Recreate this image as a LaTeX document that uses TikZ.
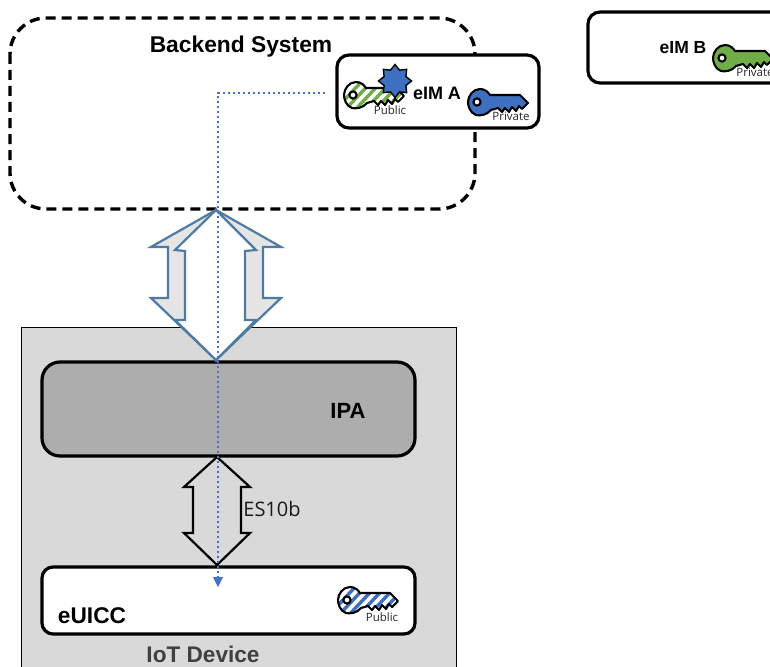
\documentclass[tikz,border=0pt]{standalone}
\usepackage{fontspec}
\setmainfont{Liberation Sans}
\newfontfamily\labelfont{Open Sans}
\usetikzlibrary{shapes.geometric}
\definecolor{keyblue}{HTML}{3F6FC0}
\definecolor{keygreen}{HTML}{70AD47}
\definecolor{dotblue}{HTML}{4472C4}
\definecolor{arrowblue}{HTML}{4F7BA3}
\newcommand{\keypath}{(8,-7) -- (38,-7) -- (46,1) -- (40,7) -- (37,4) -- (34,9) -- (30,5) -- (27,10) -- (23,6) -- (20,10) -- (16,6) -- (9,8)
  .. controls (5,13) and (-2,14) .. (-6,13) .. controls (-12,11) and (-14,4) .. (-14,0) .. controls (-14,-6) and (-9,-13) .. (-2,-13) .. controls (3,-13) and (6,-10) .. (8,-7) -- cycle}
\tikzset{
  x=1pt,y=-1pt,
  solidkey/.pic={
    \fill[fill=#1] \keypath;
    \draw[keyline] \keypath;
    \draw[keyline,fill=white] (-5,0) circle (3.6);
  },
  hatchkey/.pic={
    \fill[white] \keypath;
    \begin{scope}
      \clip \keypath;
      \foreach \s in {-24,-14,...,70}
        \draw[#1,line width=3.4pt] (\s,16) -- (\s+30,-16);
    \end{scope}
    \draw[keyline] \keypath;
    \draw[keyline,fill=white] (-5,0) circle (3.6);
  },
  keyline/.style={line width=2.1pt,line join=round,draw=black},
  panel/.style={draw=black,line width=3.2pt,rounded corners=#1},
  smalltext/.style={font=\labelfont\fontsize{11.5}{12}\selectfont,text=black!85,inner sep=0pt},
  boldtext/.style={font=\bfseries\fontsize{#1}{#1}\selectfont,inner sep=0pt},
  bigarrow/.style={draw=arrowblue,line width=2.2pt,line join=miter},
  thinarrow/.style={draw=black,line width=2.2pt,line join=miter},
  flow/.style={draw=dotblue,line width=2.4pt,dash pattern=on 2.4pt off 2.6pt},
}
\begin{document}
\begin{tikzpicture}
\useasboundingbox (0,0) rectangle (770,666);
\clip (0,0) rectangle (770,666);
% IoT device
\path[fill=black!15,draw=black,line width=0.9pt] (21,327) -- (456,327) -- (456,670) -- (21,670) -- cycle;
\node[boldtext=22.6,text=black!75] (iot) at (203,654) {IoT Device};
% backend
\draw[panel=36,dash pattern=on 10pt off 6pt,line width=3.4pt] (10,18) rectangle (475,209);
\node[boldtext=22.8] (backend) at (241,47) {Backend System};
% IPA and eUICC
\path[panel=18,fill=black!32] (42,362) rectangle (415,456);
\node[boldtext=22] (ipa) at (348,411) {IPA};
\path[panel=11,fill=white] (42,567) rectangle (415,634);
\node[boldtext=22.7] (euicc) at (92,616) {eUICC};
% large arrows
\path[bigarrow,fill=black!10] (216,210) -- (151,247) -- (168,247) -- (168,298) -- (151,298) -- (216,360) -- cycle;
\path[bigarrow,fill=black!10] (216,210) -- (281,247) -- (263,247) -- (263,298) -- (281,298) -- (216,360) -- cycle;
\path[bigarrow,fill=white] (216,210) -- (175,250) -- (185,251) -- (185,320) -- (175,320) -- (216,360) -- (256,320) -- (245,320) -- (245,251) -- (256,250) -- cycle;
% ES10b arrow
\path[thinarrow,fill=black!15] (217,457) -- (184,487) -- (193,487) -- (193,533) -- (184,533) -- (217,565) -- (250,533) -- (241,533) -- (241,487) -- (250,487) -- cycle;
\node[font=\labelfont\fontsize{20}{20}\selectfont,inner sep=0pt,text=black!90] (es) at (272,509) {ES10b};
% eIM A
\path[panel=12,fill=white] (337,55) rectangle (539,128);
\pic at (358,95) {hatchkey=keygreen};
\node[star,star points=8,star point ratio=1.4,minimum size=33pt,inner sep=0pt,fill=keyblue,draw=black,line width=1.4pt] (badge) at (395,81) {};
\node[smalltext] (pubA) at (390,110) {Public};
\node[boldtext=18] (eima) at (437,93) {eIM A};
\pic at (482,102) {solidkey=keyblue};
\node[smalltext] (privA) at (511,116) {Private};
% eIM B
\path[panel=12,fill=white] (588,12) rectangle (800,83);
\node[boldtext=17.5] (eimb) at (683,48) {eIM B};
\pic at (727,58) {solidkey=keygreen};
\node[smalltext] (privB) at (755,72) {Private};
% eUICC key
\pic at (352,600) {hatchkey=keyblue};
\node[smalltext] (pubE) at (382,617) {Public};
% flow
\coordinate (flowstart) at (325,93);
\coordinate (flowturn) at (218,93);
\coordinate (flowend) at (218,577);
\coordinate (flowtip) at (218,587);
\draw[flow] (flowstart) -- (flowturn) -- (flowend);
\fill[dotblue] (213,577) -- (223,577) -- (flowtip) -- cycle;
\end{tikzpicture}
\end{document}
